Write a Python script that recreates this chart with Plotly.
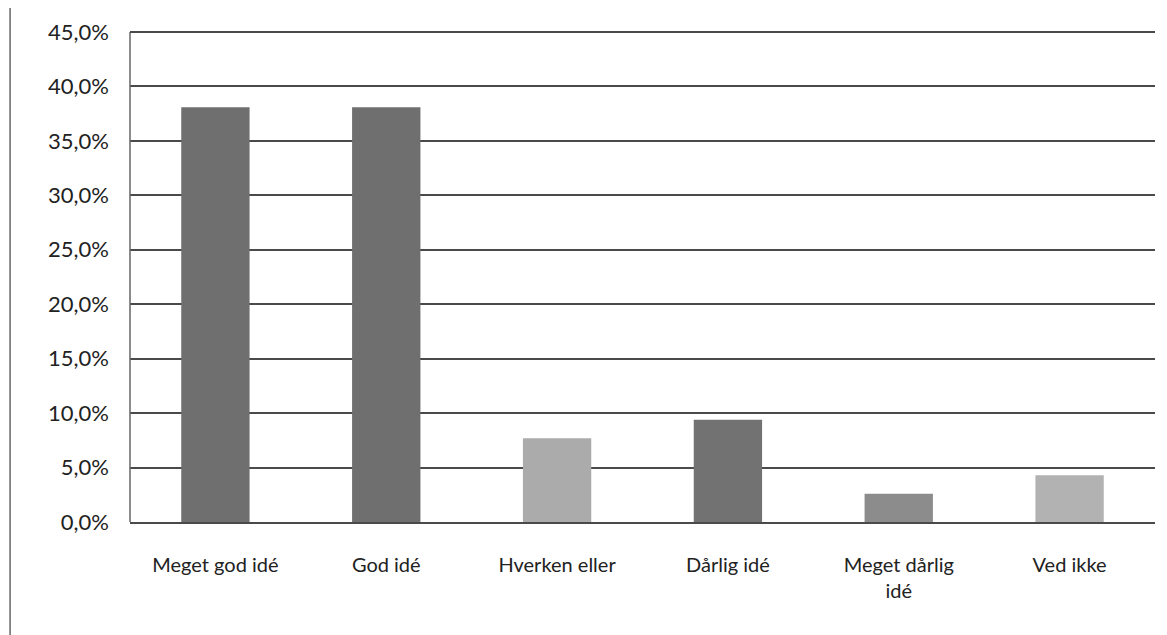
import plotly.graph_objects as go

categories = ["Meget god idé", "God idé", "Hverken eller", "Dårlig idé", "Meget dårlig<br>idé", "Ved ikke"]
values = [38.1, 38.1, 7.7, 9.4, 2.6, 4.3]
bar_colors = ["#6f6f6f", "#6f6f6f", "#ababab", "#727272", "#8c8c8c", "#b2b2b2"]
tick_vals = [0, 5, 10, 15, 20, 25, 30, 35, 40, 45]
tick_text = ["0,0%", "5,0%", "10,0%", "15,0%", "20,0%", "25,0%", "30,0%", "35,0%", "40,0%", "45,0%"]

fig = go.Figure(go.Bar(
    x=categories, y=values, marker=dict(color=bar_colors, line=dict(width=0)),
    width=0.4,
))

fig.update_layout(
    width=1159, height=627,
    margin=dict(l=122, r=12, t=24, b=113),
    plot_bgcolor="white", paper_bgcolor="white",
    showlegend=False,
    font=dict(family="Lato, Open Sans, sans-serif", size=20, color="#222222"),
    shapes=[
        dict(type="line", xref="paper", yref="paper", x0=-0.117, x1=-0.117, y0=-0.25, y1=1.06,
             line=dict(color="#666666", width=1.5)),
        dict(type="line", xref="paper", yref="paper", x0=0, x1=0, y0=0, y1=1,
             line=dict(color="#666666", width=1.5)),
        dict(type="line", xref="paper", yref="paper", x0=0, x1=1, y0=1, y1=1,
             line=dict(color="#4a4a4a", width=2)),
    ],
)
fig.update_yaxes(
    range=[0, 45], tickvals=tick_vals, ticktext=tick_text,
    showgrid=True, gridcolor="#4a4a4a", gridwidth=2,
    zeroline=False, showline=False, ticks="", ticklabelstandoff=20,
    tickfont=dict(size=22), automargin=False,
)
fig.update_xaxes(
    showline=True, linecolor="#4a4a4a", linewidth=2, ticks="",
    ticklabelstandoff=24, tickfont=dict(size=20), automargin=False,
)

fig.write_html("out.html")
